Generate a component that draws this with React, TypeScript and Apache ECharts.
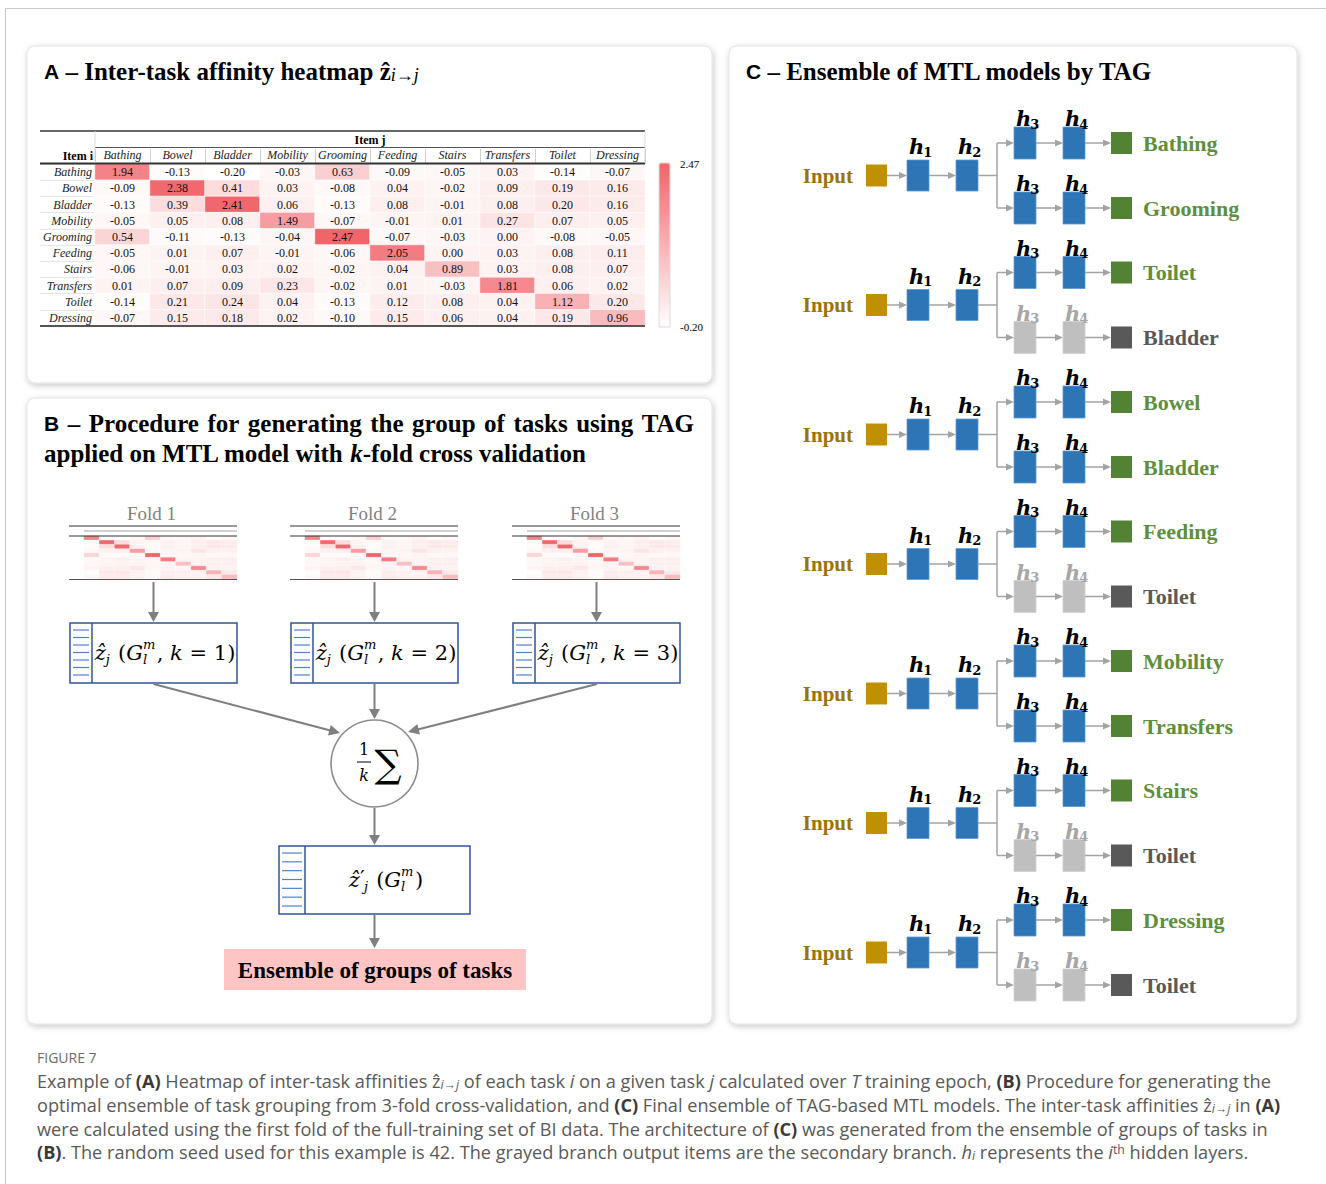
import { useEffect, useRef } from 'react';
import * as echarts from 'echarts';

// Inter-task affinities z(i -> j): one row per item i, columns follow `tasks` (item j)
const tasks = ['Bathing', 'Bowel', 'Bladder', 'Mobility', 'Grooming', 'Feeding', 'Stairs', 'Transfers', 'Toilet', 'Dressing'];
const rowBathing = [1.94, -0.13, -0.2, -0.03, 0.63, -0.09, -0.05, 0.03, -0.14, -0.07];
const rowBowel = [-0.09, 2.38, 0.41, 0.03, -0.08, 0.04, -0.02, 0.09, 0.19, 0.16];
const rowBladder = [-0.13, 0.39, 2.41, 0.06, -0.13, 0.08, -0.01, 0.08, 0.2, 0.16];
const rowMobility = [-0.05, 0.05, 0.08, 1.49, -0.07, -0.01, 0.01, 0.27, 0.07, 0.05];
const rowGrooming = [0.54, -0.11, -0.13, -0.04, 2.47, -0.07, -0.03, 0.0, -0.08, -0.05];
const rowFeeding = [-0.05, 0.01, 0.07, -0.01, -0.06, 2.05, 0.0, 0.03, 0.08, 0.11];
const rowStairs = [-0.06, -0.01, 0.03, 0.02, -0.02, 0.04, 0.89, 0.03, 0.08, 0.07];
const rowTransfers = [0.01, 0.07, 0.09, 0.23, -0.02, 0.01, -0.03, 1.81, 0.06, 0.02];
const rowToilet = [-0.14, 0.21, 0.24, 0.04, -0.13, 0.12, 0.08, 0.04, 1.12, 0.2];
const rowDressing = [-0.07, 0.15, 0.18, 0.02, -0.1, 0.15, 0.06, 0.04, 0.19, 0.96];
const affinity = [rowBathing, rowBowel, rowBladder, rowMobility, rowGrooming, rowFeeding, rowStairs, rowTransfers, rowToilet, rowDressing];

const scaleMin = -0.2;
const scaleMax = 2.47;
const scaleLabels = ['2.47', '-0.20'];

// k-fold thumbnails (fold 1 is the matrix above)
const folds = ['Fold 1', 'Fold 2', 'Fold 3'];
const foldK = ['1', '2', '3'];

// TAG ensemble: each model has a primary and a secondary output head
const primaryOutputs = ['Bathing', 'Toilet', 'Bowel', 'Feeding', 'Mobility', 'Stairs', 'Dressing'];
const secondaryOutputs = ['Grooming', 'Bladder', 'Bladder', 'Toilet', 'Transfers', 'Toilet', 'Toilet'];
const secondaryGreyed = [false, true, false, true, false, true, true];

const titleBLine1 = ['Procedure', 'for', 'generating', 'the', 'group', 'of', 'tasks', 'using', 'TAG'];

const captionTitle = 'FIGURE 7';
const captionLines = [
  'Example of {b|(A)} Heatmap of inter-task affinities {z|ẑ}{sub|i→j} of each task {i|i} on a given task {i|j} calculated over {i|T} training epoch, {b|(B)} Procedure for generating the',
  'optimal ensemble of task grouping from 3-fold cross-validation, and {b|(C)} Final ensemble of TAG-based MTL models. The inter-task affinities {z|ẑ}{sub|i→j} in {b|(A)}',
  'were calculated using the first fold of the full-training set of BI data. The architecture of {b|(C)} was generated from the ensemble of groups of tasks in',
  '{b|(B)}. The random seed used for this example is 42. The grayed branch output items are the secondary branch. {i|h}{sub|i} represents the {i|i}{sup|th} hidden layers.',
];

const SERIF = '"Liberation Serif", "Times New Roman", serif';
const SANS = '"Liberation Sans", Arial, sans-serif';
const MATH = '"DejaVu Serif", serif';
const CAPTION = '"Open Sans", "Noto Sans", sans-serif';

const measureCtx = document.createElement('canvas').getContext('2d') as CanvasRenderingContext2D;
function textWidth(text: string, size: number, family: string, italic = false, bold = false) {
  measureCtx.font = `${italic ? 'italic' : 'normal'} ${bold ? 'bold' : 'normal'} ${size}px ${family}`;
  return measureCtx.measureText(text).width;
}

type TOpt = {
  size?: number; fill?: string; family?: string; bold?: boolean; italic?: boolean;
  align?: string; va?: string; rich?: any; z?: number;
};
function txt(x: number, y: number, text: string, o: TOpt = {}) {
  const align = o.align ?? 'left';
  const va = o.va ?? 'middle';
  const style: any = {
    text,
    fill: o.fill ?? '#000',
    fontSize: o.size ?? 12,
    fontFamily: o.family ?? SERIF,
    fontWeight: o.bold ? 'bold' : 'normal',
    fontStyle: o.italic ? 'italic' : 'normal',
    align, verticalAlign: va, textAlign: align, textVerticalAlign: va,
  };
  if (o.rich) style.rich = o.rich;
  return { type: 'text', x, y, z: o.z ?? 20, silent: true, style };
}
function rs(size: number, family: string, fill: string, bold = false, italic = false, extra: any = {}) {
  return { fontSize: size, fontFamily: family, fill, color: fill, fontWeight: bold ? 'bold' : 'normal', fontStyle: italic ? 'italic' : 'normal', ...extra };
}
function ln(x1: number, y1: number, x2: number, y2: number, stroke: string, lw = 1, z = 20) {
  return { type: 'line', z, silent: true, shape: { x1, y1, x2, y2 }, style: { stroke, lineWidth: lw } };
}
function rc(x: number, y: number, w: number, h: number, style: any, z = 20, r = 0) {
  return { type: 'rect', z, silent: true, shape: { x, y, width: w, height: h, r }, style };
}
function arrow(x1: number, y1: number, x2: number, y2: number, color: string, lw: number, hl: number, hw: number, z = 20) {
  const dx = x2 - x1, dy = y2 - y1, L = Math.hypot(dx, dy);
  const ux = dx / L, uy = dy / L;
  const bx = x2 - ux * hl, by = y2 - uy * hl;
  const px = (-uy * hw) / 2, py = (ux * hw) / 2;
  return [
    ln(x1, y1, bx + ux, by + uy, color, lw, z),
    { type: 'polygon', z, silent: true, shape: { points: [[x2, y2], [bx + px, by + py], [bx - px, by - py]] }, style: { fill: color } },
  ];
}

// Inline math laid out token by token (subscripts / stacked super+subscripts)
type MathTok = { t: string; it?: boolean; k?: number; dy?: number; w?: number } | { sup: string; sub: string };
function mathText(tokens: MathTok[], cx: number, cy: number, size: number) {
  const pieces: any[] = [];
  let total = 0;
  for (const tok of tokens) {
    if ('sup' in tok) {
      const s = size * 0.62;
      const w = Math.max(textWidth(tok.sup, s, MATH, true), textWidth(tok.sub, s, MATH, true)) + 1.5;
      pieces.push({ tok, w, s });
      total += w;
    } else {
      const s = size * (tok.k ?? 1);
      const w = tok.w ?? textWidth(tok.t, s, MATH, !!tok.it) + (tok.k ? 1.5 : 0);
      pieces.push({ tok, w, s });
      total += w;
    }
  }
  let x = cx - total / 2;
  const els: any[] = [];
  for (const p of pieces) {
    const tok = p.tok;
    if ('sup' in tok) {
      els.push(txt(x, cy - size * 0.4, tok.sup, { size: p.s, family: MATH, italic: true }));
      els.push(txt(x, cy + size * 0.3, tok.sub, { size: p.s, family: MATH, italic: true }));
    } else {
      els.push(txt(x, cy + (tok.dy ?? 0) * size, tok.t, { size: p.s, family: MATH, italic: !!tok.it }));
    }
    x += p.w;
  }
  return els;
}

function listStrip(x: number, y: number, w: number, h: number) {
  const els: any[] = [ln(x + w, y, x + w, y + h, '#2F5597', 1.5)];
  const n = 7;
  for (let i = 0; i < n; i++) {
    const yy = y + 7 + ((h - 15) * i) / (n - 1);
    els.push(ln(x + 3, yy, x + w - 3, yy, '#4F81D0', 1.2));
  }
  return els;
}

function hLabel(left: number, baseline: number, n: number, color: string) {
  const hw = textWidth('h', 21, MATH, true, true);
  return [
    txt(left + 2, baseline - 21 * 0.3, 'h', { size: 21, family: MATH, bold: true, italic: true, fill: color }),
    txt(left + 2 + hw - 1, baseline + 3 - 13 * 0.3, String(n), { size: 13, family: MATH, bold: true, fill: color }),
  ];
}

// words spread evenly between x0 and x1 (a justified title line)
function justified(prefix: string, words: string[], x0: number, x1: number, y: number) {
  const lead = { t: prefix, fam: SANS, size: 21 };
  const items = [lead, { t: '–', fam: SERIF, size: 25 }, ...words.map((w) => ({ t: w, fam: SERIF, size: 25 }))];
  const widths = items.map((it) => textWidth(it.t, it.size, it.fam, false, true));
  const sum = widths.reduce((a, b) => a + b, 0);
  const gap = (x1 - x0 - sum) / (items.length - 1);
  const els: any[] = [];
  let x = x0;
  items.forEach((it, i) => {
    els.push(txt(x, y, it.t, { size: it.size, family: it.fam, bold: true }));
    x += widths[i] + gap;
  });
  return els;
}

function buildGraphics() {
  const els: any[] = [];

  // page frame
  els.push(ln(5, 8.5, 1326, 8.5, '#c8c8c8', 1, 1));
  els.push(ln(5.5, 8, 5.5, 1184, '#c8c8c8', 1, 1));

  // panels
  const panelStyle = { fill: '#fff', stroke: '#e3e3e3', lineWidth: 1, shadowBlur: 6, shadowOffsetX: 1, shadowOffsetY: 2, shadowColor: 'rgba(0,0,0,0.22)' };
  els.push(rc(27, 46, 685, 337, panelStyle, 0, 8));
  els.push(rc(27, 398, 685, 626, panelStyle, 0, 8));
  els.push(rc(729, 46, 568, 978, panelStyle, 0, 8));

  // panel titles
  const titleRich = {
    s: rs(21, SANS, '#000', true),
    t: rs(25, SERIF, '#000', true),
    k: rs(25, SERIF, '#000', true, true),
    sb: rs(18, SERIF, '#000', false, true, { verticalAlign: 'bottom' }),
  };
  els.push(txt(44, 71, '{s|A}{t| – Inter-task affinity heatmap ẑ}{sb|i→j}', { rich: titleRich }));
  els.push(...justified('B', titleBLine1, 44, 694, 423));
  els.push(txt(44, 453, '{t|applied on MTL model with }{k|k}{t|-fold cross validation}', { rich: titleRich }));
  els.push(txt(746, 71, '{s|C}{t| – Ensemble of MTL models by TAG}', { rich: titleRich }));

  // ---- Panel A table rules and headers
  els.push(ln(40, 131, 645, 131, '#333', 1.5));
  els.push(ln(95, 147.5, 645, 147.5, '#555', 1));
  els.push(ln(40, 163.5, 645, 163.5, '#333', 1.8));
  els.push(ln(40, 326, 645, 326, '#555', 2));
  els.push(ln(95, 131, 95, 163, '#d0d0d0', 0.8));
  els.push(ln(645, 131, 645, 163, '#d0d0d0', 0.8));
  els.push(txt(370, 139.5, 'Item j', { size: 12, bold: true, align: 'center' }));
  els.push(txt(93, 156, 'Item i', { size: 12, bold: true, align: 'right' }));
  els.push(rc(659, 163, 11, 164, { fill: 'none', stroke: '#dcdcdc', lineWidth: 1 }));
  els.push(txt(680, 164, scaleLabels[0], { size: 11 }));
  els.push(txt(680, 327, scaleLabels[1], { size: 11 }));

  // ---- Panel B: folds
  const boxLeft = [70, 291, 513];
  folds.forEach((name, f) => {
    const L = boxLeft[f];
    const tl = L - 1;
    const cx = L + 83.5;
    els.push(txt(cx - 2, 513, name, { size: 19, fill: '#7f7f7f', align: 'center' }));
    els.push(ln(tl, 526, tl + 168, 526, '#333', 1.2));
    els.push(ln(tl + 15, 531, tl + 168, 531, '#666', 0.6));
    els.push(ln(tl, 536, tl + 168, 536, '#333', 1.2));
    els.push(ln(tl, 579.5, tl + 168, 579.5, '#555', 1));
    els.push(...arrow(cx, 582, cx, 622, '#7f7f7f', 2, 10, 11));
    els.push(rc(L, 623, 167, 60, { fill: '#fff', stroke: '#2F5597', lineWidth: 1.5 }));
    els.push(...listStrip(L, 623, 22, 60));
    els.push(
      ...mathText(
        [{ t: 'ẑ', it: true }, { t: 'j', it: true, k: 0.62, dy: 0.3 }, { t: ' (' }, { t: 'G', it: true }, { sup: 'm', sub: 'l' },
         { t: ', ' }, { t: 'k', it: true }, { t: ' = ' + foldK[f] + ')' }],
        L + 95, 653, 21,
      ),
    );
  });

  // averaging node
  els.push(...arrow(153.5, 684, 340, 733, '#7f7f7f', 2, 11, 11));
  els.push(...arrow(374.5, 684, 374.5, 719, '#7f7f7f', 2, 10, 11));
  els.push(...arrow(597, 684, 408, 732, '#7f7f7f', 2, 11, 11));
  els.push({ type: 'circle', z: 20, silent: true, shape: { cx: 374.5, cy: 763.5, r: 43.5 }, style: { fill: '#fff', stroke: '#8c8c8c', lineWidth: 1.6 } });
  els.push(txt(364, 749, '1', { size: 16, family: MATH, align: 'center' }));
  els.push(ln(357, 762, 371, 762, '#000', 1));
  els.push(txt(364, 775, 'k', { size: 16, family: MATH, italic: true, align: 'center' }));
  els.push(txt(388, 764, '∑', { size: 38, family: MATH, align: 'center' }));
  els.push(...arrow(374.5, 808, 374.5, 845, '#7f7f7f', 2, 10, 11));

  els.push(rc(279, 846, 191, 68, { fill: '#fff', stroke: '#2F5597', lineWidth: 1.5 }));
  els.push(...listStrip(279, 846, 26, 68));
  els.push(
    ...mathText(
      [{ t: 'ẑ', it: true }, { t: '′', dy: -0.08, w: 4 }, { t: 'j', it: true, k: 0.62, dy: 0.3 }, { t: ' (' }, { t: 'G', it: true },
       { sup: 'm', sub: 'l' }, { t: ')' }],
      386, 880, 21,
    ),
  );
  els.push(...arrow(374.5, 915, 374.5, 948, '#7f7f7f', 2, 10, 11));
  els.push(rc(224, 949, 302, 41, { fill: '#FFC5C5' }));
  els.push(txt(375, 970, 'Ensemble of groups of tasks', { size: 23, bold: true, align: 'center' }));

  // ---- Panel C: MTL architectures
  const BLUE = '#2E75B6';
  const ARROW = '#A3A3A3';
  primaryOutputs.forEach((prim, i) => {
    const U = 143 + 129.5 * i;
    const Lo = U + 65;
    const M = U + 32.5;
    els.push(txt(853, M, 'Input', { size: 21, bold: true, fill: '#9A7406', align: 'right' }));
    els.push(rc(866, M - 11, 21, 22, { fill: '#BF9000' }));
    els.push(...arrow(887, M, 907, M, ARROW, 1.5, 8, 7));
    els.push(rc(907, M - 15.5, 22, 31, { fill: BLUE, stroke: '#5B9BD5', lineWidth: 0.8 }));
    els.push(...hLabel(907, M - 15.5 - 7, 1, '#000'));
    els.push(...arrow(929, M, 956, M, ARROW, 1.5, 8, 7));
    els.push(rc(956, M - 15.5, 22, 31, { fill: BLUE, stroke: '#5B9BD5', lineWidth: 0.8 }));
    els.push(...hLabel(956, M - 15.5 - 7, 2, '#000'));
    els.push(ln(978, M, 997, M, ARROW, 1.5));
    els.push(ln(997, U, 997, Lo, ARROW, 1.5));
    const branches: [number, string, boolean][] = [[U, prim, false], [Lo, secondaryOutputs[i], secondaryGreyed[i]]];
    branches.forEach(([y, name, grey]) => {
      const blk = grey ? '#BFBFBF' : BLUE;
      const edge = grey ? '#D0D0D0' : '#5B9BD5';
      const lab = grey ? '#A6A6A6' : '#000';
      els.push(...arrow(997, y, 1014, y, ARROW, 1.5, 8, 7));
      els.push(rc(1014, y - 16, 22, 32, { fill: blk, stroke: edge, lineWidth: 0.8 }));
      els.push(...hLabel(1014, y - 18, 3, lab));
      els.push(...arrow(1036, y, 1063, y, ARROW, 1.5, 8, 7));
      els.push(rc(1063, y - 16, 22, 32, { fill: blk, stroke: edge, lineWidth: 0.8 }));
      els.push(...hLabel(1063, y - 18, 4, lab));
      els.push(...arrow(1085, y, 1111, y, ARROW, 1.5, 8, 7));
      els.push(rc(1111, y - 11, 21, 22, { fill: grey ? '#595959' : '#548235' }));
      els.push(txt(1143, y, name, { size: 22, bold: true, fill: grey ? '#595959' : '#5E8F3C' }));
    });
  });

  // ---- Caption
  const plain = captionLines[0].replace(/\{\w+\|([^}]*)\}/g, '$1');
  const w16 = textWidth(plain, 16, CAPTION);
  const capSize = Math.max(14, Math.min(19, (16 * 1240) / w16));
  const capRich = {
    b: rs(capSize, CAPTION, '#3a3a3a', true),
    i: rs(capSize, CAPTION, '#595959', false, true),
    z: rs(capSize, CAPTION, '#595959'),
    sub: rs(capSize * 0.68, CAPTION, '#595959', false, true, { verticalAlign: 'bottom' }),
    sup: rs(capSize * 0.68, CAPTION, '#595959', false, false, { verticalAlign: 'top' }),
  };
  els.push(txt(37, 1057, captionTitle, { size: 14, family: CAPTION, fill: '#6b6b6b' }));
  const capY = [1081, 1105, 1129, 1152];
  captionLines.forEach((line, i) => {
    els.push(txt(37, capY[i], line, { size: capSize, family: CAPTION, fill: '#595959', rich: capRich }));
  });

  return els;
}

export default function App() {
  const ref = useRef<HTMLDivElement>(null);

  useEffect(() => {
    if (!ref.current) return;
    const chart = echarts.init(ref.current, undefined, { renderer: 'svg' });

    const cells = affinity.flatMap((row, i) => row.map((v, j) => [j, i, v]));
    const miniLeft = [84, 305, 527];

    const axisLabelStyle = { fontFamily: SERIF, fontStyle: 'italic', fontSize: 12, color: '#222' };

    const option: any = {
      animation: false,
      backgroundColor: '#ffffff',
      grid: [
        { left: 95, top: 164, width: 550, height: 162 },
        ...miniLeft.map((l) => ({ left: l, top: 536, width: 153, height: 43 })),
      ],
      xAxis: [
        {
          type: 'category', gridIndex: 0, data: tasks, position: 'top',
          axisLine: { show: false },
          axisTick: { show: true, length: 15, lineStyle: { color: '#cfcfcf' } },
          axisLabel: { ...axisLabelStyle, margin: 3, interval: 0 },
          splitLine: { show: false },
        },
        ...miniLeft.map((_, k) => ({ type: 'category', gridIndex: k + 1, data: tasks, show: false })),
      ],
      yAxis: [
        {
          type: 'category', gridIndex: 0, data: tasks, inverse: true,
          axisLine: { show: false },
          axisTick: { show: true, length: 55, lineStyle: { color: '#e4e4e4' } },
          axisLabel: { ...axisLabelStyle, margin: 3, interval: 0 },
          splitLine: { show: false },
        },
        ...miniLeft.map((_, k) => ({ type: 'category', gridIndex: k + 1, data: tasks, inverse: true, show: false })),
      ],
      visualMap: {
        type: 'continuous',
        min: scaleMin,
        max: scaleMax,
        seriesIndex: [0, 1, 2, 3],
        inRange: { color: ['#ffffff', '#f0646a'] },
        calculable: false,
        hoverLink: false,
        left: 659,
        top: 163,
        padding: 0,
        itemWidth: 11,
        itemHeight: 164,
        orient: 'vertical',
      },
      series: [
        {
          type: 'heatmap', xAxisIndex: 0, yAxisIndex: 0, data: cells,
          label: {
            show: true, fontFamily: SERIF, fontSize: 12, color: '#111',
            formatter: (p: any) => p.value[2].toFixed(2),
          },
          itemStyle: { borderColor: '#ffffff', borderWidth: 0.6 },
          emphasis: { disabled: true },
        },
        ...miniLeft.map((_, k) => ({
          type: 'heatmap', xAxisIndex: k + 1, yAxisIndex: k + 1, data: cells,
          label: { show: false },
          itemStyle: { borderColor: '#ffffff', borderWidth: 0.3 },
          emphasis: { disabled: true },
        })),
      ],
      graphic: { elements: buildGraphics() },
    };

    chart.setOption(option);
    return () => chart.dispose();
  }, []);

  return <div ref={ref} style={{ position: 'absolute', left: 0, top: 0, width: 1326, height: 1184 }} />;
}
